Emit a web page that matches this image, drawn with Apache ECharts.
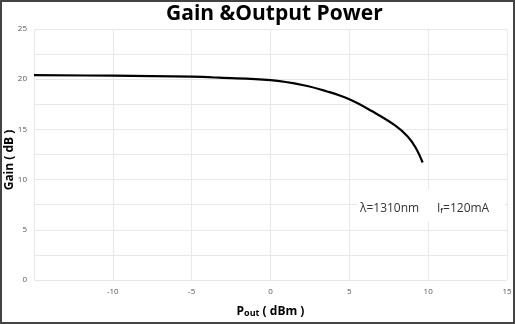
<!DOCTYPE html>
<html><head><meta charset="utf-8">
<script src="https://cdn.jsdelivr.net/npm/echarts@6/dist/echarts.min.js"></script>
<style>html,body{margin:0;padding:0;background:#fff}#c{width:515px;height:324px}</style>
</head><body><div id="c"></div>
<script>
const titleText = "Gain &Output Power";
const yName = "Gain ( dB )";
const xTicks = [-15, -10, -5, 0, 5, 10, 15];
const yTicks = [0, 5, 10, 15, 20, 25];
const poutDbm = [-15, -10, -5, -3.25, 0, 2.1, 3.55, 5, 6.45, 7.9, 8.7, 9.2, 9.65];
const gainDb = [20.4, 20.35, 20.25, 20.15, 19.9, 19.4, 18.8, 18.0, 16.8, 15.4, 14.3, 13.2, 11.7];
const noteWave = "λ=1310nm";
const noteCurrent = ["I", "f", "=120mA"];

const chart = echarts.init(document.getElementById('c'), null, {renderer: 'canvas'});
const font = '"Open Sans", "Noto Sans", sans-serif';
chart.setOption({
  animation: false,
  backgroundColor: '#fff',
  title: {
    text: titleText, left: 161, top: -1,
    textStyle: {fontFamily: font, fontSize: 21, fontWeight: 'bold', color: '#000'}
  },
  grid: {left: 34, right: 8, top: 29, bottom: 44, containLabel: false, outerBoundsMode: 'none'},
  xAxis: {
    type: 'value', min: xTicks[0], max: xTicks[xTicks.length - 1], interval: 5,
    axisLine: {show: false}, axisTick: {show: false},
    axisLabel: {fontSize: 8, color: '#555', fontFamily: font, margin: 8, showMinLabel: false},
    splitLine: {lineStyle: {color: '#e8e8e8', width: 1}},
    name: '{a|P}{b|out}{a| ( dBm )}', nameLocation: 'middle', nameGap: 26,
    nameTextStyle: {rich: {
      a: {fontFamily: font, fontSize: 12, fontWeight: 'bold', color: '#000', verticalAlign: 'bottom'},
      b: {fontFamily: font, fontSize: 9, fontWeight: 'bold', color: '#000', verticalAlign: 'bottom'}
    }}
  },
  yAxis: {
    type: 'value', min: yTicks[0], max: yTicks[yTicks.length - 1], interval: 2.5,
    axisLine: {show: false}, axisTick: {show: false},
    axisLabel: {fontSize: 8, color: '#555', fontFamily: font, margin: 7,
      formatter: v => (v % 5 === 0 ? String(v) : '')},
    splitLine: {lineStyle: {color: '#e8e8e8', width: 1}}
  },
  series: [{
    type: 'line', data: poutDbm.map((x, i) => [x, gainDb[i]]),
    smooth: 0.4, showSymbol: false,
    lineStyle: {color: '#000', width: 2.2}
  }],
  graphic: [
    {type: 'text', x: 10, y: 160, rotation: Math.PI / 2, z: 11,
      style: {text: yName, fontFamily: font, fontSize: 12, fontWeight: 'bold', fill: '#000',
        align: 'center', verticalAlign: 'middle'}},
    {type: 'rect', shape: {x: 357, y: 189, width: 148, height: 32}, style: {fill: '#fff'}, z: 10},
    {type: 'text', x: 360, y: 203, z: 11,
      style: {text: noteWave, fontFamily: font, fontSize: 12, fill: '#333'}},
    {type: 'text', x: 437, y: 203, z: 11,
      style: {text: '{a|' + noteCurrent[0] + '}{s|' + noteCurrent[1] + '}{a|' + noteCurrent[2] + '}',
        rich: {a: {fontFamily: font, fontSize: 12, fill: '#333', color: '#333', verticalAlign: 'bottom'},
               s: {fontFamily: font, fontSize: 8, color: '#333', verticalAlign: 'bottom'}}}},
    {type: 'rect', shape: {x: 1, y: 1, width: 513, height: 322},
      style: {fill: null, stroke: '#444', lineWidth: 2}, z: 20}
  ]
});
</script></body></html>
